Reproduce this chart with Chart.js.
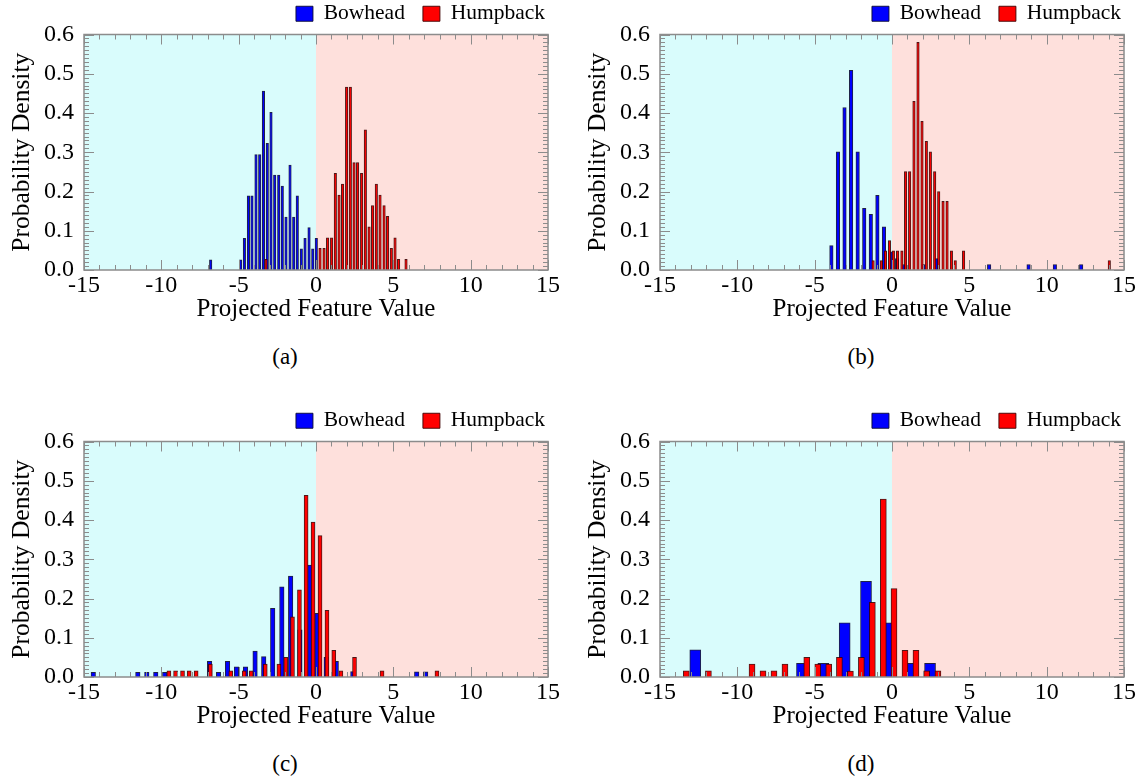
<!DOCTYPE html>
<html>
<head>
<meta charset="utf-8">
<script src="https://cdn.jsdelivr.net/npm/chart.js@4.4.1/dist/chart.umd.min.js"></script>
<style>
  body { margin: 0; background: #fff; }
  #page { position: relative; width: 1143px; height: 784px; overflow: hidden; }
  #page canvas { position: absolute; }
  .cap { position: absolute; width: 80px; text-align: center; font: 23px 'Liberation Serif', 'Times New Roman', serif; color: #000; }
</style>
</head>
<body>
<div id="page"></div>
<script>
// series names and panel captions
const seriesNames = ['Bowhead', 'Humpback'];
const panelLabels = ['(a)', '(b)', '(c)', '(d)'];
const xTitle = 'Projected Feature Value';
const yTitle = 'Probability Density';

// (a) bin centres and densities
const aBowX = [-6.81, -4.87, -4.63, -4.37, -4.14, -3.88, -3.64, -3.40, -3.15, -2.91, -2.67, -2.41, -2.18, -1.94, -1.68, -1.44, -1.21, -0.95, -0.71, -0.45, -0.21, 0.02];
const aBowY = [0.026, 0.026, 0.081, 0.189, 0.189, 0.294, 0.294, 0.456, 0.323, 0.402, 0.242, 0.242, 0.214, 0.135, 0.267, 0.135, 0.189, 0.054, 0.081, 0.108, 0.054, 0.081];
const aHumX = [-3.23, 0.26, 0.52, 0.75, 1.01, 1.25, 1.49, 1.72, 1.98, 2.22, 2.46, 2.69, 2.95, 3.19, 3.43, 3.66, 3.90, 4.14, 4.40, 4.63, 4.87, 5.11, 5.34, 5.82];
const aHumY = [0.027, 0.055, 0.055, 0.082, 0.082, 0.246, 0.191, 0.219, 0.466, 0.466, 0.274, 0.274, 0.246, 0.357, 0.110, 0.164, 0.219, 0.191, 0.164, 0.137, 0.055, 0.082, 0.027, 0.027];

// (b)
const bBowX = [-3.92, -3.495, -3.07, -2.645, -2.22, -1.795, -1.37, -0.945, -0.52, -0.095, 0.33, 0.755, 2.03, 2.88, 6.28, 8.83, 10.53, 12.23];
const bBowY = [0.062, 0.301, 0.414, 0.509, 0.301, 0.157, 0.142, 0.190, 0.110, 0.046, 0.029, 0.014, 0.014, 0.029, 0.014, 0.014, 0.014, 0.014];
const bHumX = [-1.22, -0.69, -0.42, -0.16, 0.09, 0.36, 0.64, 0.88, 1.14, 1.42, 1.68, 1.94, 2.22, 2.48, 2.76, 3.02, 3.30, 3.56, 3.84, 4.09, 4.63, 14.05];
const bHumY = [0.024, 0.024, 0.049, 0.075, 0.049, 0.049, 0.049, 0.251, 0.251, 0.430, 0.580, 0.379, 0.328, 0.301, 0.251, 0.200, 0.175, 0.175, 0.049, 0.024, 0.049, 0.024];

// (c)
const cBowX = [-14.40, -11.52, -10.94, -10.36, -9.78, -6.88, -6.30, -5.72, -5.14, -4.56, -3.94, -3.38, -2.80, -2.21, -1.64, -1.04, -0.40, 0.06, 0.66, 1.31, 2.38, 6.51, 7.09];
const cBowY = [0.012, 0.012, 0.012, 0.012, 0.012, 0.040, 0.012, 0.040, 0.026, 0.026, 0.066, 0.052, 0.175, 0.230, 0.257, 0.120, 0.285, 0.162, 0.050, 0.040, 0.014, 0.013, 0.013];
const cHumX = [-9.51, -9.08, -8.63, -8.20, -7.75, -6.83, -5.51, -4.64, -4.19, -3.28, -2.40, -1.95, -1.52, -1.07, -0.64, -0.19, 0.26, 0.71, 1.15, 1.61, 2.49, 4.27, 7.82];
const cHumY = [0.016, 0.016, 0.016, 0.016, 0.016, 0.033, 0.016, 0.016, 0.016, 0.033, 0.033, 0.050, 0.153, 0.222, 0.463, 0.395, 0.360, 0.170, 0.068, 0.016, 0.050, 0.016, 0.016];

// (d)
const dBowX = [-12.72, -5.82, -4.44, -3.06, -1.68, -0.30, 1.08, 2.46];
const dBowY = [0.069, 0.035, 0.035, 0.138, 0.244, 0.138, 0.035, 0.035];
const dHumX = [-13.30, -11.87, -9.05, -8.34, -7.63, -6.92, -5.51, -4.80, -4.09, -3.40, -2.69, -1.98, -1.27, -0.56, 0.13, 0.84, 1.55, 2.24, 2.97];
const dHumY = [0.016, 0.016, 0.033, 0.016, 0.016, 0.033, 0.050, 0.033, 0.033, 0.050, 0.015, 0.050, 0.190, 0.453, 0.225, 0.068, 0.068, 0.016, 0.016];

Chart.defaults.font.family = "'Liberation Serif', 'Times New Roman', serif";
Chart.defaults.color = '#000';

const FRAME = '#8c8c8c';

// shaded halves, inward ticks and the box around the plot
const panelFrame = {
  id: 'panelFrame',
  beforeDatasetsDraw(chart) {
    const a = chart.chartArea;
    const x = chart.scales.x;
    const ctx = chart.ctx;
    const x0 = x.getPixelForValue(0);
    ctx.save();
    ctx.fillStyle = '#d9fcfc';
    ctx.fillRect(a.left, a.top, x0 - a.left, a.bottom - a.top);
    ctx.fillStyle = '#fee0dc';
    ctx.fillRect(x0, a.top, a.right - x0, a.bottom - a.top);
    ctx.restore();
  },
  afterDraw(chart) {
    const a = chart.chartArea;
    const x = chart.scales.x;
    const y = chart.scales.y;
    const ctx = chart.ctx;
    ctx.save();
    ctx.strokeStyle = FRAME;
    ctx.lineWidth = 1;
    ctx.beginPath();
    for (let v = -15; v <= 15; v += 1) {
      const px = Math.round(x.getPixelForValue(v)) + 0.5;
      const len = v % 5 === 0 ? 10 : 5;
      ctx.moveTo(px, a.bottom); ctx.lineTo(px, a.bottom - len);
      ctx.moveTo(px, a.top); ctx.lineTo(px, a.top + len);
    }
    for (let i = 0; i <= 60; i++) {
      const py = Math.round(y.getPixelForValue(i / 100)) + 0.5;
      const len = i % 10 === 0 ? 10 : 5;
      ctx.moveTo(a.left, py); ctx.lineTo(a.left + len, py);
      ctx.moveTo(a.right, py); ctx.lineTo(a.right - len, py);
    }
    ctx.stroke();
    ctx.lineWidth = 1.5;
    ctx.strokeRect(a.left, a.top, a.right - a.left, a.bottom - a.top);
    ctx.restore();
  }
};

function pts(xs, ys) {
  return xs.map((v, i) => ({ x: v, y: ys[i] }));
}

function makePanel(n, left, top, bowX, bowY, humX, humY, bowW, humW) {
  const page = document.getElementById('page');
  const canvas = document.createElement('canvas');
  canvas.width = 563;
  canvas.height = 339;
  canvas.style.left = left + 'px';
  canvas.style.top = (top - 15) + 'px';
  page.appendChild(canvas);

  const cap = document.createElement('div');
  cap.className = 'cap';
  cap.textContent = panelLabels[n];
  cap.style.left = (left + 245) + 'px';
  cap.style.top = (top + 344) + 'px';
  page.appendChild(cap);

  new Chart(canvas, {
    type: 'bar',
    data: {
      datasets: [{
        label: seriesNames[0],
        data: pts(bowX, bowY),
        backgroundColor: '#0000ff',
        borderColor: 'rgba(10,10,50,0.9)',
        borderWidth: 1,
        barThickness: bowW,
        order: 1
      }, {
        label: seriesNames[1],
        data: pts(humX, humY),
        backgroundColor: '#ff0000',
        borderColor: 'rgba(60,0,0,0.9)',
        borderWidth: 1,
        barThickness: humW,
        order: 0
      }]
    },
    options: {
      responsive: false,
      animation: false,
      grouped: false,
      layout: { padding: { left: 7, right: 0, top: 0, bottom: 0 } },
      plugins: {
        legend: {
          position: 'top',
          align: 'end',
          labels: {
            boxWidth: 17,
            boxHeight: 15,
            padding: 18,
            font: { size: 21.5 },
            sort: (p, q) => p.datasetIndex - q.datasetIndex
          }
        },
        tooltip: { enabled: false }
      },
      scales: {
        x: {
          type: 'linear',
          offset: false,
          min: -15,
          max: 15,
          ticks: { stepSize: 5, padding: 1, font: { size: 24 }, maxRotation: 0 },
          grid: { display: false, drawTicks: false },
          border: { display: false },
          title: { display: true, text: xTitle, font: { size: 25 }, padding: 0 },
          afterFit(s) { s.height = 54; }
        },
        y: {
          min: 0,
          max: 0.6,
          ticks: { stepSize: 0.1, padding: 10, font: { size: 24 }, callback: v => v.toFixed(1) },
          grid: { display: false, drawTicks: false },
          border: { display: false },
          title: { display: true, text: yTitle, font: { size: 25.5 }, padding: 0 },
          afterFit(s) { s.width = 77; }
        },
        y2: {
          position: 'right',
          min: 0,
          max: 0.6,
          ticks: { display: false },
          grid: { display: false, drawTicks: false },
          border: { display: false },
          afterFit(s) { s.width = 15; }
        }
      }
    },
    plugins: [panelFrame]
  });
}

makePanel(0, 0, 0, aBowX, aBowY, aHumX, aHumY, 2.5, 2.5);
makePanel(1, 576, 0, bBowX, bBowY, bHumX, bHumY, 3.5, 2.5);
makePanel(2, 0, 407, cBowX, cBowY, cHumX, cHumY, 4.5, 4);
makePanel(3, 576, 407, dBowX, dBowY, dHumX, dHumY, 11, 6);
</script>
</body>
</html>
